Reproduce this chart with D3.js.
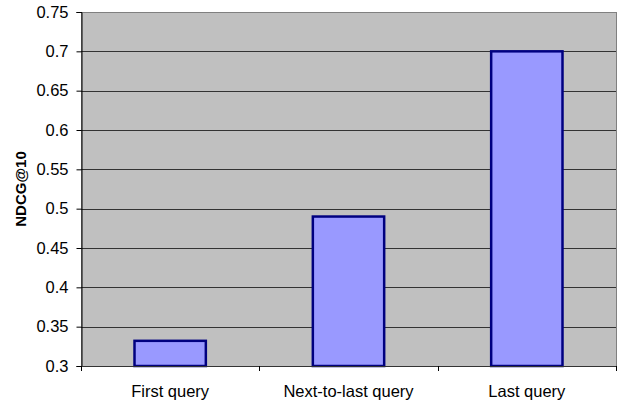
<!DOCTYPE html>
<html>
<head>
<meta charset="utf-8">
<script src="https://cdn.jsdelivr.net/npm/d3@7"></script>
<style>
  html, body { margin: 0; padding: 0; background: #fff; }
  svg { display: block; }
  text { font-family: "Liberation Sans", Arial, sans-serif; }
</style>
</head>
<body>
<svg id="chart" width="624" height="405"></svg>
<script>
// Data
const categories = ["First query", "Next-to-last query", "Last query"];
const ndcgValues = [0.332, 0.49, 0.7];
const yTicks = [0.3, 0.35, 0.4, 0.45, 0.5, 0.55, 0.6, 0.65, 0.7, 0.75];
const yTitle = "NDCG@10";

const svg = d3.select("#chart");
const margin = { left: 81, right: 8, top: 12, bottom: 39 };
const W = 624, H = 405;
const innerW = W - margin.left - margin.right;
const innerH = H - margin.top - margin.bottom;

const x = d3.scaleBand().domain(categories).range([margin.left, margin.left + innerW])
  .paddingInner(0.6).paddingOuter(0.3);
const xEdge = d3.scaleLinear().domain([0, categories.length]).range([margin.left, margin.left + innerW]);
const y = d3.scaleLinear().domain([0.3, 0.75]).range([margin.top + innerH, margin.top]);

// Plot area background
svg.append("rect")
  .attr("x", margin.left).attr("y", margin.top)
  .attr("width", innerW).attr("height", innerH)
  .attr("fill", "#c0c0c0")
  .attr("stroke", "#808080").attr("stroke-width", 1)
  .attr("shape-rendering", "crispEdges");

// Horizontal gridlines
svg.append("g").selectAll("line")
  .data(yTicks.filter(t => t > 0.3 && t < 0.75))
  .join("line")
  .attr("x1", margin.left).attr("x2", margin.left + innerW)
  .attr("y1", d => Math.round(y(d)) + 0.5).attr("y2", d => Math.round(y(d)) + 0.5)
  .attr("stroke", "#333").attr("stroke-width", 1);

// Bars
svg.append("g").selectAll("rect")
  .data(categories.map((c, i) => ({ c, v: ndcgValues[i] })))
  .join("rect")
  .attr("x", d => x(d.c))
  .attr("y", d => y(d.v))
  .attr("width", x.bandwidth())
  .attr("height", d => y(0.3) - y(d.v))
  .attr("fill", "#9999ff")
  .attr("stroke", "#000080")
  .attr("stroke-width", 2.5);

// Y axis
const yAxis = d3.axisLeft(y).tickValues(yTicks).tickSize(5).tickPadding(8)
  .tickFormat(d => d3.format("")(+d.toFixed(2)));
const gy = svg.append("g").attr("transform", `translate(${margin.left + 0.5},0)`).call(yAxis);
gy.select(".domain").attr("stroke", "#000");
gy.selectAll(".tick line").attr("stroke", "#000");
gy.selectAll(".tick text").attr("font-size", 16.5).attr("fill", "#000")
  .attr("font-family", "'Liberation Sans', Arial, sans-serif");

// X axis baseline with boundary ticks
const gx = svg.append("g");
gx.append("line")
  .attr("x1", margin.left).attr("x2", margin.left + innerW)
  .attr("y1", y(0.3) + 0.5).attr("y2", y(0.3) + 0.5)
  .attr("stroke", "#333");
gx.selectAll("line.tk")
  .data(d3.range(categories.length + 1))
  .join("line").attr("class", "tk")
  .attr("x1", d => Math.round(xEdge(d)) + 0.5).attr("x2", d => Math.round(xEdge(d)) + 0.5)
  .attr("y1", y(0.3)).attr("y2", y(0.3) + 5)
  .attr("stroke", "#000");
gx.selectAll("text")
  .data(categories)
  .join("text")
  .attr("x", (d, i) => (xEdge(i) + xEdge(i + 1)) / 2)
  .attr("y", 397)
  .attr("text-anchor", "middle")
  .attr("font-size", 16.5)
  .attr("fill", "#000")
  .text(d => d);

// Y axis title
svg.append("text")
  .attr("transform", `translate(26,${margin.top + innerH / 2}) rotate(-90)`)
  .attr("text-anchor", "middle")
  .attr("font-size", 15)
  .attr("font-weight", "bold")
  .attr("fill", "#000")
  .text(yTitle);
</script>
</body>
</html>
